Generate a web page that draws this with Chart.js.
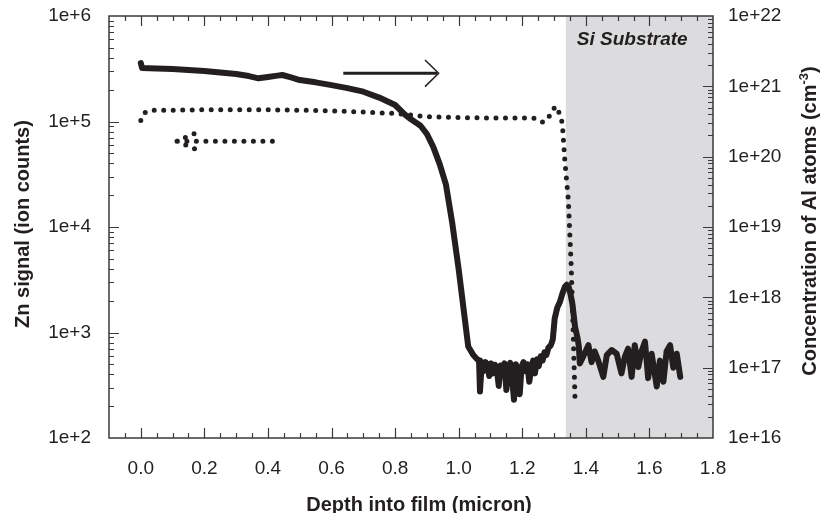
<!DOCTYPE html>
<html>
<head>
<meta charset="utf-8">
<script src="https://cdn.jsdelivr.net/npm/chart.js@4"></script>
<style>
  html, body { margin: 0; padding: 0; background: #ffffff; }
  #wrap { width: 821px; height: 513px; position: relative; }
</style>
</head>
<body>
<div id="wrap"><canvas id="depthProfile"></canvas></div>
<script>
const INK = '#231f20';
const FONT = "'Liberation Sans', Arial, sans-serif";

// x axis (depth, micron)
const xTickValues = [0.0, 0.2, 0.4, 0.6, 0.8, 1.0, 1.2, 1.4, 1.6, 1.8];
const substrateStart = 1.337;

// left axis ticks (Zn signal)
const leftTickValues = [1e2, 1e3, 1e4, 1e5, 1e6];
const leftTickLabels = ['1e+2', '1e+3', '1e+4', '1e+5', '1e+6'];

// right axis ticks (Al concentration)
const rightTickValues = [1e16, 1e17, 1e18, 1e19, 1e20, 1e21, 1e22];
const rightTickLabels = ['1e+16', '1e+17', '1e+18', '1e+19', '1e+20', '1e+21', '1e+22'];

// Zn signal (ion counts), dotted curve, left axis
const znDepth = [0.000, 0.010, 0.030, 0.100, 0.200, 0.300, 0.400, 0.500, 0.600, 0.700,
                 0.800, 0.850, 0.900, 1.000, 1.100, 1.200, 1.245, 1.266, 1.286, 1.304,
                 1.318, 1.326, 1.334, 1.345, 1.354, 1.360, 1.366];
const znSignal = [1.02e5, 1.20e5, 1.28e5, 1.28e5, 1.29e5, 1.29e5, 1.29e5, 1.28e5, 1.26e5, 1.23e5,
                  1.19e5, 1.15e5, 1.11e5, 1.09e5, 1.08e5, 1.08e5, 1.07e5, 0.98e5, 1.13e5, 1.40e5,
                  1.18e5, 0.96e5, 4.2e4, 1.8e4, 4.2e3, 1.05e3, 2.3e2];

// Al concentration (cm-3), solid curve, right axis
const alDepth = [0.000, 0.004, 0.050, 0.100, 0.150, 0.200, 0.250, 0.300, 0.340, 0.370,
                 0.400, 0.430, 0.445, 0.470, 0.500, 0.550, 0.600, 0.650, 0.700, 0.750,
                 0.800, 0.830, 0.850, 0.880, 0.900, 0.920, 0.940, 0.960, 0.980, 1.000,
                 1.015, 1.030, 1.046, 1.058, 1.064, 1.067, 1.072, 1.078, 1.084, 1.090,
                 1.096, 1.102, 1.108, 1.114, 1.120, 1.126, 1.132, 1.138, 1.144, 1.150,
                 1.156, 1.162, 1.168, 1.174, 1.180, 1.186, 1.192, 1.198, 1.204, 1.210,
                 1.216, 1.222, 1.228, 1.234, 1.240, 1.246, 1.252, 1.258, 1.264, 1.270,
                 1.276, 1.282, 1.290, 1.296, 1.302, 1.310, 1.318, 1.326, 1.334, 1.340,
                 1.346, 1.352, 1.358, 1.366, 1.374, 1.378, 1.381, 1.392, 1.408, 1.418,
                 1.428, 1.439, 1.455, 1.466, 1.481, 1.497, 1.512, 1.523, 1.533, 1.544,
                 1.554, 1.565, 1.575, 1.586, 1.596, 1.607, 1.623, 1.633, 1.644, 1.654,
                 1.665, 1.675, 1.686, 1.697];
const alConc = [2.14e21, 1.82e21, 1.80e21, 1.76e21, 1.71e21, 1.65e21, 1.57e21, 1.50e21, 1.40e21, 1.30e21,
                1.36e21, 1.42e21, 1.45e21, 1.35e21, 1.23e21, 1.14e21, 1.04e21, 9.44e20, 8.39e20, 6.92e20,
                5.43e20, 4.00e20, 3.40e20, 2.75e20, 2.10e20, 1.38e20, 7.9e19, 4.0e19, 1.12e19, 2.5e18,
                7.1e17, 2.0e17, 1.51e17, 1.32e17, 1.26e17, 4.6e16, 1.05e17, 8.9e16, 1.20e17, 1.12e17,
                7.6e16, 1.15e17, 8.3e16, 1.10e17, 9.5e16, 5.5e16, 1.07e17, 9.1e16, 1.15e17, 4.8e16,
                1.00e17, 1.17e17, 7.1e16, 3.5e16, 1.12e17, 7.9e16, 4.2e16, 1.05e17, 1.20e17, 8.9e16,
                1.12e17, 6.3e16, 9.5e16, 1.26e17, 8.3e16, 1.32e17, 1.05e17, 1.45e17, 1.26e17, 1.66e17,
                1.51e17, 1.91e17, 2.09e17, 2.51e17, 5.0e17, 7.1e17, 8.5e17, 1.12e18, 1.41e18, 1.51e18,
                1.41e18, 1.10e18, 7.9e17, 3.8e17, 2.63e17, 2.0e17, 1.15e17, 1.45e17, 2.09e17, 1.20e17,
                1.70e17, 1.26e17, 7.4e16, 1.51e17, 1.78e17, 1.58e17, 8.3e16, 1.45e17, 1.86e17, 7.4e16,
                2.09e17, 1.02e17, 1.70e17, 2.34e17, 7.1e16, 1.58e17, 5.4e16, 1.26e17, 6.3e16, 1.70e17,
                2.09e17, 1.00e17, 1.58e17, 7.4e16];

// arrow annotations (data coordinates on the left axis)
const dotArrowX = [0.414, 0.114, 0.189, 0.150, 0.114, 0.189];
const dotArrowY = [6.5e4, 6.5e4, 8.2e4, null, 6.5e4, 5.2e4];
const shaftX = [0.637, 0.933];
const shaftY = [2.87e5, 2.87e5];
const headX = [0.894, 0.937, 0.894];
const headY = [3.83e5, 2.87e5, 2.14e5];

const pts = (xs, ys) => xs.map((x, i) => ({ x: x, y: ys[i] }));

const substratePlugin = {
  id: 'substrate',
  beforeDatasetsDraw(chart) {
    const { ctx, chartArea, scales } = chart;
    const x0 = scales.x.getPixelForValue(substrateStart);
    ctx.save();
    ctx.fillStyle = '#dcdcde';
    ctx.fillRect(x0, chartArea.top, chartArea.right - x0, chartArea.bottom - chartArea.top);
    ctx.fillStyle = INK;
    ctx.font = "italic bold 19px " + FONT;
    ctx.textAlign = 'left';
    ctx.textBaseline = 'alphabetic';
    ctx.fillText('Si Substrate', x0 + 11, chartArea.top + 29);
    ctx.restore();
  }
};

const framePlugin = {
  id: 'frame',
  afterDatasetsDraw(chart) {
    const { ctx, chartArea: a, scales } = chart;
    ctx.save();
    ctx.strokeStyle = '#3a3a3a';
    ctx.lineWidth = 1.5;
    ctx.strokeRect(a.left, a.top, a.right - a.left, a.bottom - a.top);
    ctx.lineWidth = 1.2;
    ctx.beginPath();
    // x ticks, bottom and top, pointing inwards
    for (let k = -1; k <= 36; k++) {
      const v = k * 0.05;
      const px = Math.round(scales.x.getPixelForValue(v)) + 0.5;
      if (px <= a.left + 1 || px >= a.right - 1) continue;
      const len = (k % 4 === 0) ? 10 : 5;
      ctx.moveTo(px, a.bottom); ctx.lineTo(px, a.bottom - len);
      ctx.moveTo(px, a.top); ctx.lineTo(px, a.top + len);
    }
    // log ticks on both y axes
    const logTicks = (scale, lo, hi, side) => {
      for (let e = lo; e < hi; e++) {
        for (let m = 1; m <= 9; m++) {
          const py = Math.round(scale.getPixelForValue(m * Math.pow(10, e))) + 0.5;
          if (py <= a.top + 1 || py >= a.bottom - 1) continue;
          const len = m === 1 ? 10 : 5;
          if (side === 'left') { ctx.moveTo(a.left, py); ctx.lineTo(a.left + len, py); }
          else { ctx.moveTo(a.right, py); ctx.lineTo(a.right - len, py); }
        }
      }
    };
    logTicks(scales.yL, 2, 6, 'left');
    logTicks(scales.yR, 16, 22, 'right');
    ctx.stroke();
    ctx.restore();
  }
};

const titlePlugin = {
  id: 'titles',
  afterDraw(chart) {
    const { ctx } = chart;
    ctx.save();
    ctx.fillStyle = INK;
    ctx.font = "bold 20px " + FONT;
    ctx.textBaseline = 'alphabetic';
    ctx.textAlign = 'center';
    ctx.fillText('Depth into film (micron)', 419, 511);

    ctx.save();
    ctx.translate(29, 224);
    ctx.rotate(-Math.PI / 2);
    ctx.fillText('Zn signal (ion counts)', 0, 0);
    ctx.restore();

    // right title with superscript
    const main = 'Concentration of Al atoms (cm';
    const sup = '-3';
    const close = ')';
    ctx.font = "bold 20px " + FONT;
    const w1 = ctx.measureText(main).width;
    const w3 = ctx.measureText(close).width;
    ctx.font = "bold 13px " + FONT;
    const w2 = ctx.measureText(sup).width;
    const total = w1 + w2 + w3;
    ctx.translate(816, 221);
    ctx.rotate(-Math.PI / 2);
    ctx.textAlign = 'left';
    let x = -total / 2;
    ctx.font = "bold 20px " + FONT;
    ctx.fillText(main, x, 0);
    x += w1;
    ctx.font = "bold 13px " + FONT;
    ctx.fillText(sup, x, -8);
    x += w2;
    ctx.font = "bold 20px " + FONT;
    ctx.fillText(close, x, 0);
    ctx.restore();
  }
};

// y axes: fixed width, and no extra label overhang pushing the plot down
const fixYAxis = width => s => {
  s.width = width;
  s.paddingTop = 0;
  s.paddingBottom = 0;
};

new Chart(document.getElementById('depthProfile'), {
  type: 'line',
  data: {
    datasets: [
      {
        label: 'Al concentration',
        data: pts(alDepth, alConc),
        yAxisID: 'yR',
        borderColor: INK,
        borderWidth: 6,
        borderJoinStyle: 'round',
        borderCapStyle: 'round',
        pointRadius: 0,
        tension: 0
      },
      {
        label: 'Zn signal',
        data: pts(znDepth, znSignal),
        yAxisID: 'yL',
        borderColor: INK,
        borderWidth: 5,
        borderDash: [0, 9.5],
        borderCapStyle: 'round',
        pointRadius: 0,
        tension: 0
      },
      {
        label: 'Zn arrow',
        data: pts(dotArrowX, dotArrowY),
        yAxisID: 'yL',
        borderColor: INK,
        borderWidth: 5,
        borderDash: [0, 9.5],
        borderCapStyle: 'round',
        pointRadius: 0,
        spanGaps: false,
        tension: 0
      },
      {
        label: 'Al arrow shaft',
        data: pts(shaftX, shaftY),
        yAxisID: 'yL',
        borderColor: INK,
        borderWidth: 3,
        pointRadius: 0
      },
      {
        label: 'Al arrow head',
        data: pts(headX, headY),
        yAxisID: 'yL',
        borderColor: INK,
        borderWidth: 1.5,
        pointRadius: 0
      }
    ]
  },
  options: {
    responsive: true,
    maintainAspectRatio: false,
    animation: false,
    devicePixelRatio: 1,
    layout: { padding: { top: 16, left: 0, right: 0, bottom: 0 } },
    plugins: { legend: { display: false }, tooltip: { enabled: false } },
    scales: {
      x: {
        type: 'linear',
        position: 'bottom',
        min: -0.1,
        max: 1.8,
        afterBuildTicks: s => { s.ticks = xTickValues.map(v => ({ value: v })); },
        afterFit: s => { s.height = 75; },
        ticks: {
          callback: v => v.toFixed(1),
          color: INK,
          font: { family: FONT, size: 19 },
          padding: 19,
          maxRotation: 0,
          autoSkip: false
        },
        grid: { display: false, drawTicks: false },
        border: { display: false }
      },
      yL: {
        type: 'logarithmic',
        position: 'left',
        min: 1e2,
        max: 1e6,
        afterBuildTicks: s => { s.ticks = leftTickValues.map(v => ({ value: v })); },
        afterFit: fixYAxis(109),
        ticks: {
          callback: (v, i) => leftTickLabels[i],
          color: INK,
          font: { family: FONT, size: 19 },
          padding: 18
        },
        grid: { display: false, drawTicks: false },
        border: { display: false }
      },
      yR: {
        type: 'logarithmic',
        position: 'right',
        min: 1e16,
        max: 1e22,
        afterBuildTicks: s => { s.ticks = rightTickValues.map(v => ({ value: v })); },
        afterFit: fixYAxis(108),
        ticks: {
          callback: (v, i) => rightTickLabels[i],
          color: INK,
          font: { family: FONT, size: 19 },
          padding: 15
        },
        grid: { display: false, drawTicks: false },
        border: { display: false }
      }
    }
  },
  plugins: [substratePlugin, framePlugin, titlePlugin]
});
</script>
</body>
</html>
